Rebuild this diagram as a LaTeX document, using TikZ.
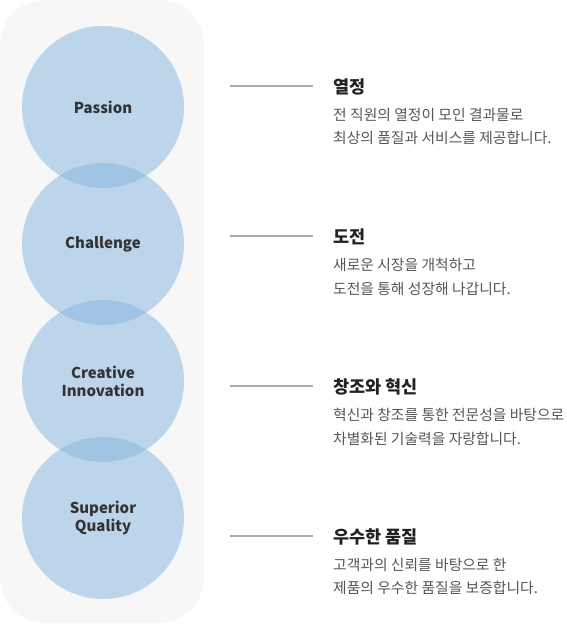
\documentclass[tikz,border=0pt]{standalone}
\usepackage{fontspec}
\setmainfont{Noto Sans CJK KR}
\definecolor{bgc}{RGB}{247,247,247}
\definecolor{circc}{RGB}{133,181,223}
\definecolor{linec}{RGB}{170,170,170}
\definecolor{titlec}{RGB}{34,34,34}
\definecolor{bodyc}{RGB}{85,85,85}
\definecolor{circtext}{RGB}{51,51,51}
\begin{document}
\begin{tikzpicture}[x=1pt,y=-1pt,
  circ/.style={circle, minimum size=162pt, inner sep=0pt, fill=circc, fill opacity=0.5, text opacity=1,
     text=circtext, font=\fontsize{15}{18}\selectfont\bfseries, align=center},
  conn/.style={draw=linec, line width=1.3pt},
  ttl/.style={anchor=west, inner sep=0pt, text=titlec, font=\fontsize{17.5}{20}\selectfont\bfseries},
  body/.style={anchor=north west, inner sep=0pt, text=bodyc, align=left,
     font=\fontsize{14.8}{23.5}\selectfont}]
\useasboundingbox (0,0) rectangle (566,624);
\fill[bgc, rounded corners=45pt] (0,0) rectangle (204,623);
\node[circ] (c1) at (103,107) {Passion};
\node[circ] (c2) at (103,244) {Challenge};
\node[circ] (c3) at (103,381) {Creative\\Innovation};
\node[circ] (c4) at (103,518) {Superior\\Quality};

\foreach \i/\y/\t in {1/87/열정, 2/237/도전, 3/387/창조와 혁신, 4/537/우수한 품질}{
  \node[ttl] (t\i) at (333,\y) {\t};
  \coordinate (a\i) at (230,\y-1);
  \coordinate (b\i) at (313,\y-1);
  \draw[conn] (a\i) -- (b\i);
}
\node[body] (d1) at (333,108) {전 직원의 열정이 모인 결과물로\\최상의 품질과 서비스를 제공합니다.};
\node[body] (d2) at (333,258) {새로운 시장을 개척하고\\도전을 통해 성장해 나갑니다.};
\node[body] (d3) at (333,408) {혁신과 창조를 통한 전문성을 바탕으로\\차별화된 기술력을 자랑합니다.};
\node[body] (d4) at (333,558) {고객과의 신뢰를 바탕으로 한\\제품의 우수한 품질을 보증합니다.};
\end{tikzpicture}
\end{document}
